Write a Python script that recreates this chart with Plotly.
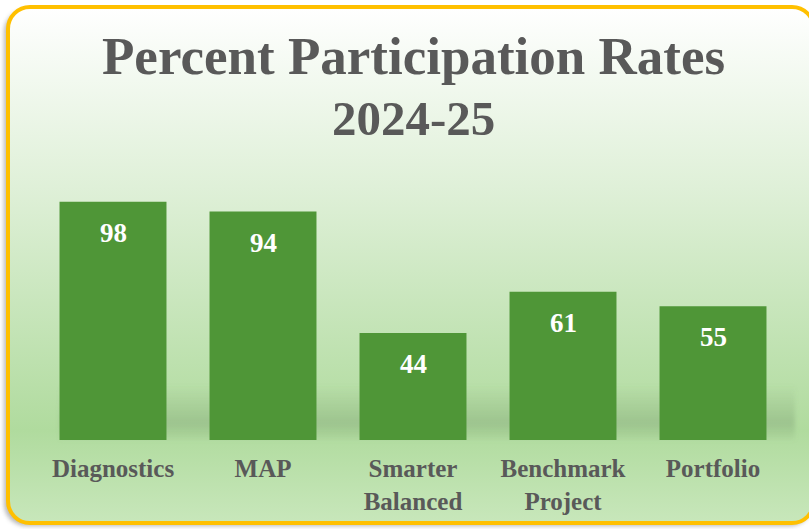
import plotly.graph_objects as go
import base64

categories = ["Diagnostics", "MAP", "Smarter<br>Balanced", "Benchmark<br>Project", "Portfolio"]
values = [98, 94, 44, 61, 55]
title_line1 = "Percent Participation Rates"
title_line2 = "2024-25"

W, H = 809, 529
L, R, T, B = 38, 21, 197, 89
pw, ph = W - L - R, H - T - B

svg = f'''<svg xmlns="http://www.w3.org/2000/svg" width="{W}" height="{H}" viewBox="0 0 {W} {H}" preserveAspectRatio="none">
<defs>
<linearGradient id="bg" x1="0" y1="0" x2="0" y2="1">
<stop offset="0" stop-color="#ffffff"/>
<stop offset="0.35" stop-color="#dff0d8"/>
<stop offset="0.82" stop-color="#b0db9e"/>
<stop offset="1" stop-color="#c8e7bb"/>
</linearGradient>
<linearGradient id="sh" x1="0" y1="0" x2="0" y2="1">
<stop offset="0" stop-color="#6f8f66" stop-opacity="0"/>
<stop offset="0.7" stop-color="#6f8f66" stop-opacity="0.3"/>
<stop offset="1" stop-color="#6f8f66" stop-opacity="0.05"/>
</linearGradient>
<filter id="blur"><feGaussianBlur stdDeviation="2"/></filter>
</defs>
<rect x="4" y="10" width="808" height="516" rx="22" ry="22" fill="#8a8a8a" opacity="0.6" filter="url(#blur)"/>
<rect x="8" y="7" width="806" height="516" rx="22" ry="22" fill="url(#bg)" stroke="#ffc000" stroke-width="4"/>
<rect x="60" y="385" width="735" height="55" fill="url(#sh)" filter="url(#blur)"/>
</svg>'''
src = "data:image/svg+xml;base64," + base64.b64encode(svg.encode()).decode()

fig = go.Figure()
fig.add_trace(go.Bar(
    x=categories, y=values,
    marker=dict(color="#4f9637", line=dict(width=0)),
    hoverinfo="skip",
))

for c, v in zip(categories, values):
    fig.add_annotation(x=c, y=v, text=f"<b>{v}</b>", showarrow=False,
                       yanchor="middle", yshift=-31,
                       font=dict(family="Liberation Serif", size=27, color="white"))

fig.add_annotation(xref="paper", yref="paper", x=0.5, y=(440 - 56) / ph,
                   text=f"<b>{title_line1}</b>", showarrow=False, yanchor="middle",
                   font=dict(family="Liberation Serif", size=53, color="#595959"))
fig.add_annotation(xref="paper", yref="paper", x=0.5, y=(440 - 119) / ph,
                   text=f"<b>{title_line2}</b>", showarrow=False, yanchor="middle",
                   font=dict(family="Liberation Serif", size=49, color="#595959"))

fig.add_layout_image(dict(
    source=src, xref="paper", yref="paper",
    x=-L / pw, y=1 + T / ph, sizex=W / pw, sizey=H / ph,
    xanchor="left", yanchor="top", sizing="stretch", layer="below",
))

fig.update_layout(
    width=W, height=H,
    margin=dict(l=L, r=R, t=T, b=B),
    paper_bgcolor="white", plot_bgcolor="rgba(0,0,0,0)",
    bargap=0.287, showlegend=False,
    xaxis=dict(showgrid=False, showline=False, zeroline=False, ticks="",
               tickfont=dict(family="Liberation Serif", size=25, color="#595959"),
               ticklabelstandoff=11),
    yaxis=dict(range=[0, 100], visible=False, showgrid=False, zeroline=False),
    font=dict(family="Liberation Serif"),
)
fig.update_xaxes(tickprefix="<b>", ticksuffix="</b>")

fig.write_html("out.html", config={"displayModeBar": False},
               post_script="document.body.style.margin='0';document.body.style.overflow='hidden';")
